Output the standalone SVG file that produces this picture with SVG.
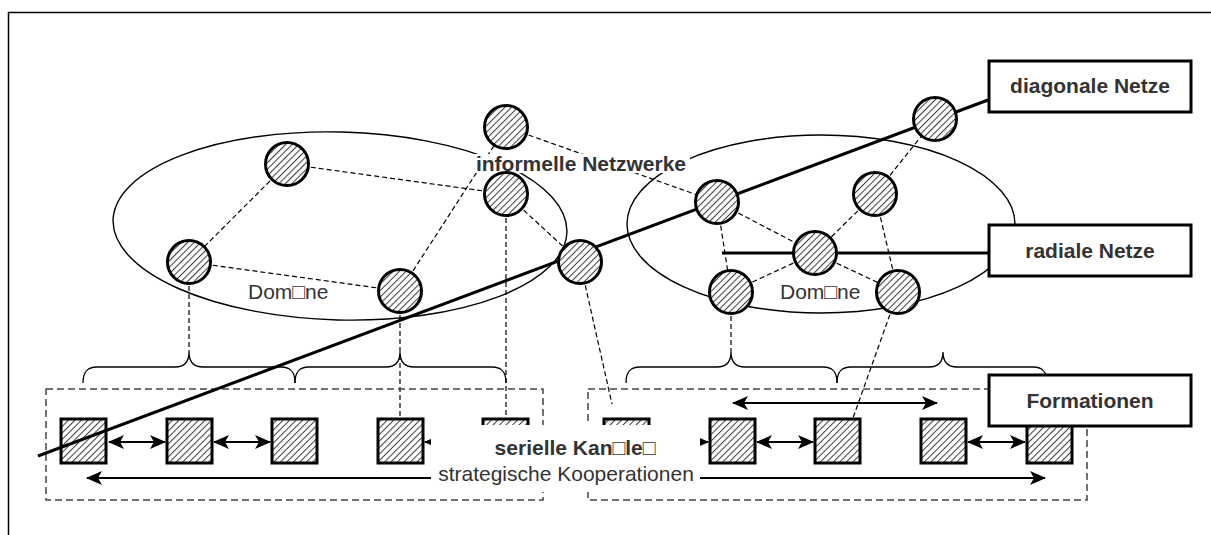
<svg xmlns="http://www.w3.org/2000/svg" width="1211" height="535" viewBox="0 0 1211 535">
<defs>
<pattern id="hatch" patternUnits="userSpaceOnUse" width="4.6" height="4.6" patternTransform="rotate(45)">
<rect width="4.6" height="4.6" fill="#fff"/>
<line x1="0.5" y1="0" x2="0.5" y2="4.6" stroke="#3a3a3a" stroke-width="1"/>
</pattern>
<marker id="ah" viewBox="0 0 16 14" refX="15" refY="7" markerWidth="16" markerHeight="14" markerUnits="userSpaceOnUse" orient="auto-start-reverse">
<path d="M0,0 L16,7 L0,14 L4,7 z" fill="#000"/>
</marker>
<style>
.ell{fill:none;stroke:#000;stroke-width:1.4}
.dash{fill:none;stroke:#000;stroke-width:1.2;stroke-dasharray:5 3}
.brace{fill:none;stroke:#000;stroke-width:1.3}
.dbox{fill:none;stroke:#444;stroke-width:1.5;stroke-dasharray:7 4}
.node{fill:url(#hatch);stroke:#000;stroke-width:3}
.sq{fill:url(#hatch);stroke:#000;stroke-width:3}
.arr{fill:none;stroke:#000;stroke-width:2;marker-start:url(#ah);marker-end:url(#ah)}
.arr1{fill:none;stroke:#000;stroke-width:2;marker-end:url(#ah)}
.thick{fill:none;stroke:#000;stroke-width:3}
.lbox{fill:#fff;stroke:#000;stroke-width:3}
.t{font-family:"Liberation Sans",Arial,sans-serif;font-size:21px;fill:#333}
.b{font-weight:bold}
</style>
</defs>
<rect x="8.5" y="12.5" width="1230" height="540" fill="none" stroke="#000" stroke-width="1.5"/>

<g id="domains">
<ellipse class="ell" cx="340" cy="226" rx="227" ry="94" transform="rotate(1.5 340 226)"/>
<ellipse class="ell" cx="821" cy="224" rx="194" ry="89"/>
</g>

<g id="connectors">
<line class="dash" x1="287" y1="164" x2="189" y2="262"/>
<line class="dash" x1="287" y1="164" x2="506" y2="194"/>
<line class="dash" x1="189" y1="262" x2="400" y2="291"/>
<line class="dash" x1="400" y1="291" x2="506" y2="127"/>
<line class="dash" x1="506" y1="194" x2="580" y2="262"/>
<line class="dash" x1="506" y1="127" x2="717" y2="202"/>
<line class="dash" x1="506" y1="194" x2="506" y2="418"/>
<line class="dash" x1="189" y1="262" x2="189" y2="352"/>
<line class="dash" x1="400" y1="291" x2="400" y2="418"/>
<line class="dash" x1="580" y1="262" x2="612" y2="404"/>
<line class="dash" x1="717" y1="202" x2="731" y2="292"/>
<line class="dash" x1="717" y1="202" x2="815" y2="253"/>
<line class="dash" x1="875" y1="194" x2="935" y2="119"/>
<line class="dash" x1="875" y1="194" x2="815" y2="253"/>
<line class="dash" x1="875" y1="194" x2="898" y2="292"/>
<line class="dash" x1="815" y1="253" x2="731" y2="292"/>
<line class="dash" x1="815" y1="253" x2="898" y2="292"/>
<line class="dash" x1="731" y1="292" x2="731" y2="352"/>
<line class="dash" x1="898" y1="292" x2="853" y2="418"/>
</g>

<g id="braces">
<path class="brace" d="M83,383 C83,372 87,367 97,367 L175,367 C184,367 189,362 189,352 C189,362 194,367 203,367 L281,367 C291,367 295,372 295,383"/>
<path class="brace" d="M295,383 C295,372 299,367 309,367 L386,367 C395,367 400,362 400,352 C400,362 405,367 414,367 L492,367 C502,367 506,372 506,383"/>
<path class="brace" d="M626,383 C626,372 630,367 640,367 L717,367 C726,367 731,362 731,352 C731,362 736,367 745,367 L823,367 C833,367 837,372 837,383"/>
<path class="brace" d="M837,383 C837,372 841,367 851,367 L929,367 C938,367 943,362 943,352 C943,362 948,367 957,367 L1033,367 C1043,367 1047,372 1047,383"/>
</g>

<g id="formation-boxes">
<rect class="dbox" x="46" y="389" width="497" height="111"/>
<rect class="dbox" x="588" y="389" width="499" height="111"/>
</g>

<g id="squares">
<rect id="s1" class="sq" x="61" y="419" width="45" height="44"/>
<rect id="s2" class="sq" x="167" y="419" width="45" height="44"/>
<rect id="s3" class="sq" x="272" y="419" width="45" height="44"/>
<rect id="s4" class="sq" x="378" y="419" width="45" height="44"/>
<rect id="s5" class="sq" x="483" y="419" width="45" height="44"/>
<rect id="s6" class="sq" x="604" y="419" width="45" height="44"/>
<rect id="s7" class="sq" x="710" y="419" width="45" height="44"/>
<rect id="s8" class="sq" x="815" y="419" width="45" height="44"/>
<rect id="s9" class="sq" x="921" y="419" width="45" height="44"/>
<rect id="s10" class="sq" x="1027" y="419" width="45" height="44"/>
</g>

<g id="arrows">
<line class="arr" x1="109" y1="442" x2="165" y2="442"/>
<line class="arr" x1="214" y1="442" x2="270" y2="442"/>
<line class="arr" x1="425" y1="442" x2="481" y2="442"/>
<line class="arr" x1="651" y1="442" x2="708" y2="442"/>
<line class="arr" x1="757" y1="442" x2="813" y2="442"/>
<line class="arr" x1="968" y1="442" x2="1025" y2="442"/>
<line class="arr" x1="733" y1="403" x2="937" y2="403"/>
<line class="arr" x1="87" y1="478" x2="1045" y2="478"/>
</g>

<g id="nets">
<line class="thick" x1="38" y1="456" x2="988" y2="100"/>
<line class="thick" x1="722" y1="253" x2="988" y2="253"/>
</g>

<rect x="431" y="425" width="269" height="67" fill="#fff"/>
<rect x="474" y="154" width="216" height="19" fill="#fff"/>

<g id="nodes">
<circle id="c1" class="node" cx="287" cy="164" r="21.5"/>
<circle id="c2" class="node" cx="506" cy="127" r="21.5"/>
<circle id="c3" class="node" cx="506" cy="194" r="21.5"/>
<circle id="c4" class="node" cx="580" cy="262" r="21.5"/>
<circle id="c5" class="node" cx="189" cy="262" r="21.5"/>
<circle id="c6" class="node" cx="400" cy="291" r="21.5"/>
<circle id="c7" class="node" cx="935" cy="119" r="21.5"/>
<circle id="c8" class="node" cx="875" cy="194" r="21.5"/>
<circle id="c9" class="node" cx="717" cy="202" r="21.5"/>
<circle id="c10" class="node" cx="815" cy="253" r="21.5"/>
<circle id="c11" class="node" cx="731" cy="292" r="21.5"/>
<circle id="c12" class="node" cx="898" cy="292" r="21.5"/>
</g>

<g id="label-diagonal">
<rect class="lbox" x="989" y="61" width="202" height="51"/>
<text class="t b" x="1090" y="93" text-anchor="middle">diagonale Netze</text>
</g>
<g id="label-radial">
<rect class="lbox" x="989" y="225" width="202" height="51"/>
<text class="t b" x="1090" y="258" text-anchor="middle">radiale Netze</text>
</g>
<g id="label-formationen">
<rect class="lbox" x="989" y="375" width="202" height="51"/>
<text class="t b" x="1090" y="408" text-anchor="middle">Formationen</text>
</g>

<g id="texts">
<text class="t b" x="581" y="171" text-anchor="middle">informelle Netzwerke</text>
<text class="t" x="248" y="299">Dom□ne</text>
<text class="t" x="780" y="299">Dom□ne</text>
<text class="t b" x="575" y="455" text-anchor="middle">serielle Kan□le□</text>
<text class="t" x="566" y="481" text-anchor="middle">strategische Kooperationen</text>
</g>
</svg>
